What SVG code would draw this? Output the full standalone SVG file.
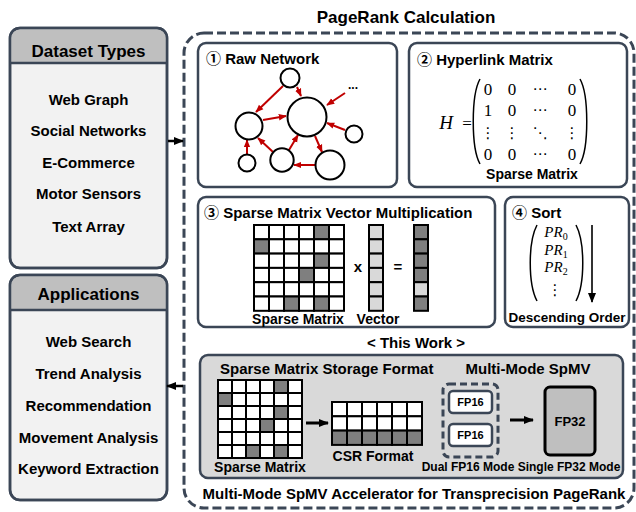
<svg xmlns="http://www.w3.org/2000/svg" width="636" height="512" viewBox="0 0 636 512">
<style>
text{font-family:"Liberation Sans","Noto Sans CJK JP",sans-serif;font-weight:bold;fill:#000}
.t17{font-size:17px}
.t15{font-size:15px}
.t14{font-size:14px}
.t12{font-size:12px}
.c{text-anchor:middle}
.box{fill:#fff;stroke:#3b4656;stroke-width:2.5}
.panel{fill:#f2f2f2;stroke:#3b4656;stroke-width:2.5}
.hdr{fill:#bfbfbf}
.math{font-family:"Liberation Serif","DejaVu Serif",serif;font-weight:normal;font-size:17px}
.mi{font-style:italic}
.sym{font-family:"DejaVu Serif","DejaVu Sans",serif;font-weight:normal;font-size:15px}
.node{fill:#fff;stroke:#000;stroke-width:2}
.edge{stroke:#c00000;stroke-width:2;fill:none;marker-end:url(#ar)}
.cell{fill:#fff;stroke:#000;stroke-width:2}
.dk{fill:#7f7f7f}
.lt{fill:#d9d9d9}
.paren{fill:none;stroke:#000;stroke-width:1.5}
.conn{stroke:#000;stroke-width:2.5;fill:none;marker-end:url(#ak)}
</style>
<defs>
<marker id="ar" viewBox="0 0 10 10" refX="9" refY="5" markerWidth="8" markerHeight="8" markerUnits="userSpaceOnUse" orient="auto"><path d="M0,1 L10,5 L0,9 z" fill="#c00000"/></marker>
<marker id="ak" viewBox="0 0 10 10" refX="9" refY="5" markerWidth="10" markerHeight="10" markerUnits="userSpaceOnUse" orient="auto"><path d="M0,1 L10,5 L0,9 z" fill="#000"/></marker>
</defs>

<!-- Dataset Types panel -->
<g id="dataset-types">
<rect class="panel" x="10" y="28" width="157" height="240" rx="10"/>
<path class="hdr" d="M11.2,63 V38 a8.8,8.8 0 0 1 8.8,-8.8 H157 a8.8,8.8 0 0 1 8.8,8.8 V63 Z"/>
<line x1="10" y1="63" x2="167" y2="63" stroke="#3b4656" stroke-width="2.5"/>
<rect x="10" y="28" width="157" height="240" rx="10" fill="none" stroke="#3b4656" stroke-width="2.5"/>
<text class="t17 c" x="88.5" y="57">Dataset Types</text>
<text class="t15 c" x="88.5" y="105">Web Graph</text>
<text class="t15 c" x="88.5" y="136">Social Networks</text>
<text class="t15 c" x="88.5" y="168">E-Commerce</text>
<text class="t15 c" x="88.5" y="199">Motor Sensors</text>
<text class="t15 c" x="88.5" y="232">Text Array</text>
</g>

<!-- Applications panel -->
<g id="applications">
<rect class="panel" x="10" y="275" width="157" height="225" rx="10"/>
<path class="hdr" d="M11.2,310 V285 a8.8,8.8 0 0 1 8.8,-8.8 H157 a8.8,8.8 0 0 1 8.8,8.8 V310 Z"/>
<line x1="10" y1="310" x2="167" y2="310" stroke="#3b4656" stroke-width="2.5"/>
<rect x="10" y="275" width="157" height="225" rx="10" fill="none" stroke="#3b4656" stroke-width="2.5"/>
<text class="t17 c" x="88.5" y="300">Applications</text>
<text class="t15 c" x="88.5" y="347">Web Search</text>
<text class="t15 c" x="88.5" y="379">Trend Analysis</text>
<text class="t15 c" x="88.5" y="411">Recommendation</text>
<text class="t15 c" x="88.5" y="443">Movement Analysis</text>
<text class="t15 c" x="88.5" y="474">Keyword Extraction</text>
</g>

<!-- PageRank Calculation dashed container -->
<g id="pagerank-calculation">
<text class="t17 c" x="406" y="23">PageRank Calculation</text>
<rect x="184" y="33" width="450" height="475" rx="20" fill="none" stroke="#3b4656" stroke-width="3" stroke-dasharray="9,4"/>
<text class="t15 c" x="416" y="348">&lt; This Work &gt;</text>
<text class="t15 c" x="414" y="499">Multi-Mode SpMV Accelerator for Transprecision PageRank</text>
</g>

<!-- Box 1 Raw Network -->
<g id="raw-network">
<rect class="box" x="198" y="43" width="199" height="144" rx="8"/>
<text class="t15" x="206" y="64">① Raw Network</text>
<g>
<line class="edge" x1="283" y1="86" x2="256" y2="112"/>
<line class="edge" x1="297" y1="87" x2="301" y2="96"/>
<line class="edge" x1="263" y1="120" x2="286" y2="116"/>
<line class="edge" x1="345" y1="93" x2="327" y2="105"/>
<line class="edge" x1="345" y1="130" x2="327" y2="123"/>
<line class="edge" x1="315" y1="136" x2="322" y2="152"/>
<line class="edge" x1="316" y1="165" x2="294" y2="165"/>
<line class="edge" x1="289" y1="150" x2="298" y2="135"/>
<line class="edge" x1="273" y1="152" x2="258" y2="138"/>
<line class="edge" x1="247" y1="155" x2="247" y2="140"/>
</g>
<circle class="node" cx="290" cy="78" r="9.5"/>
<circle class="node" cx="307" cy="117" r="19.5"/>
<circle class="node" cx="249" cy="126" r="13.5"/>
<circle class="node" cx="247" cy="163" r="8.5"/>
<circle class="node" cx="282" cy="160" r="11.7"/>
<circle class="node" cx="330" cy="165" r="14.5"/>
<circle class="node" cx="354" cy="134" r="8.5"/>
<text x="353" y="89" class="c" style="font-size:12px">...</text>
</g>

<!-- Box 2 Hyperlink Matrix -->
<g id="hyperlink-matrix">
<rect class="box" x="409" y="43" width="218" height="144" rx="8"/>
<text class="t15" x="417" y="65">② Hyperlink Matrix</text>
<text class="math mi" x="446" y="129" text-anchor="middle" style="font-size:19px">H</text>
<text class="math" x="467" y="129" text-anchor="middle">=</text>
<path class="paren" d="M480,79 C471,95 471,148 480,164"/>
<path class="paren" d="M580,79 C589,95 589,148 580,164"/>
<text class="math" x="488" y="95" text-anchor="middle">0</text>
<text class="math" x="512" y="95" text-anchor="middle">0</text>
<text class="math" x="572" y="95" text-anchor="middle">0</text>
<text class="math" x="488" y="116" text-anchor="middle">1</text>
<text class="math" x="512" y="116" text-anchor="middle">0</text>
<text class="math" x="572" y="116" text-anchor="middle">0</text>
<text class="math" x="488" y="160" text-anchor="middle">0</text>
<text class="math" x="512" y="160" text-anchor="middle">0</text>
<text class="math" x="572" y="160" text-anchor="middle">0</text>
<text class="sym" x="540" y="94" text-anchor="middle">⋯</text>
<text class="sym" x="540" y="115" text-anchor="middle">⋯</text>
<text class="sym" x="540" y="159" text-anchor="middle">⋯</text>
<text class="sym" x="488" y="138" text-anchor="middle">⋮</text>
<text class="sym" x="512" y="138" text-anchor="middle">⋮</text>
<text class="sym" x="540" y="138" text-anchor="middle">⋱</text>
<text class="sym" x="572" y="138" text-anchor="middle">⋮</text>
<text class="t14 c" x="532" y="179">Sparse Matrix</text>
</g>

<!-- Box 3 SpMV -->
<g id="spmv">
<rect class="box" x="198" y="197" width="297" height="130" rx="8"/>
<text class="t15" x="204" y="218">③ Sparse Matrix Vector Multiplication</text>
<g>
<rect class="cell" x="254" y="225" width="15" height="14.3"/><rect class="cell" x="269" y="225" width="15" height="14.3"/><rect class="cell" x="284" y="225" width="15" height="14.3"/><rect class="cell" x="299" y="225" width="15" height="14.3"/><rect class="cell dk" x="314" y="225" width="15" height="14.3"/><rect class="cell" x="329" y="225" width="15" height="14.3"/>
<rect class="cell dk" x="254" y="239.3" width="15" height="14.3"/><rect class="cell" x="269" y="239.3" width="15" height="14.3"/><rect class="cell" x="284" y="239.3" width="15" height="14.3"/><rect class="cell" x="299" y="239.3" width="15" height="14.3"/><rect class="cell" x="314" y="239.3" width="15" height="14.3"/><rect class="cell" x="329" y="239.3" width="15" height="14.3"/>
<rect class="cell" x="254" y="253.6" width="15" height="14.3"/><rect class="cell" x="269" y="253.6" width="15" height="14.3"/><rect class="cell" x="284" y="253.6" width="15" height="14.3"/><rect class="cell" x="299" y="253.6" width="15" height="14.3"/><rect class="cell dk" x="314" y="253.6" width="15" height="14.3"/><rect class="cell" x="329" y="253.6" width="15" height="14.3"/>
<rect class="cell" x="254" y="267.9" width="15" height="14.3"/><rect class="cell" x="269" y="267.9" width="15" height="14.3"/><rect class="cell" x="284" y="267.9" width="15" height="14.3"/><rect class="cell dk" x="299" y="267.9" width="15" height="14.3"/><rect class="cell" x="314" y="267.9" width="15" height="14.3"/><rect class="cell" x="329" y="267.9" width="15" height="14.3"/>
<rect class="cell" x="254" y="282.2" width="15" height="14.3"/><rect class="cell" x="269" y="282.2" width="15" height="14.3"/><rect class="cell" x="284" y="282.2" width="15" height="14.3"/><rect class="cell" x="299" y="282.2" width="15" height="14.3"/><rect class="cell" x="314" y="282.2" width="15" height="14.3"/><rect class="cell" x="329" y="282.2" width="15" height="14.3"/>
<rect class="cell" x="254" y="296.5" width="15" height="14.3"/><rect class="cell" x="269" y="296.5" width="15" height="14.3"/><rect class="cell dk" x="284" y="296.5" width="15" height="14.3"/><rect class="cell" x="299" y="296.5" width="15" height="14.3"/><rect class="cell dk" x="314" y="296.5" width="15" height="14.3"/><rect class="cell" x="329" y="296.5" width="15" height="14.3"/>
</g>
<text class="t15 c" x="358" y="272">x</text>
<g>
<rect class="cell lt" x="369" y="225" width="14" height="14.3"/><rect class="cell lt" x="369" y="239.3" width="14" height="14.3"/><rect class="cell lt" x="369" y="253.6" width="14" height="14.3"/><rect class="cell lt" x="369" y="267.9" width="14" height="14.3"/><rect class="cell lt" x="369" y="282.2" width="14" height="14.3"/><rect class="cell lt" x="369" y="296.5" width="14" height="14.3"/>
</g>
<text class="t15 c" x="398" y="272">=</text>
<g>
<rect class="cell dk" x="414" y="225" width="14" height="14.3"/><rect class="cell dk" x="414" y="239.3" width="14" height="14.3"/><rect class="cell dk" x="414" y="253.6" width="14" height="14.3"/><rect class="cell dk" x="414" y="267.9" width="14" height="14.3"/><rect class="cell lt" x="414" y="282.2" width="14" height="14.3"/><rect class="cell dk" x="414" y="296.5" width="14" height="14.3"/>
</g>
<text class="t14 c" x="298" y="324">Sparse Matrix</text>
<text class="t14 c" x="378" y="324">Vector</text>
</g>

<!-- Box 4 Sort -->
<g id="sort">
<rect class="box" x="505" y="197" width="124" height="130" rx="8"/>
<text class="t15" x="512" y="218">④ Sort</text>
<path class="paren" d="M537,225 C528,242 528,284 537,301"/>
<path class="paren" d="M576,225 C585,242 585,284 576,301"/>
<text class="math" x="556" y="237" text-anchor="middle" style="font-size:15px"><tspan font-style="italic">PR</tspan><tspan style="font-size:10px" dy="3">0</tspan></text>
<text class="math" x="556" y="255" text-anchor="middle" style="font-size:15px"><tspan font-style="italic">PR</tspan><tspan style="font-size:10px" dy="3">1</tspan></text>
<text class="math" x="556" y="272" text-anchor="middle" style="font-size:15px"><tspan font-style="italic">PR</tspan><tspan style="font-size:10px" dy="3">2</tspan></text>
<text class="sym" x="555" y="295" text-anchor="middle">⋮</text>
<line x1="592" y1="225" x2="592" y2="302" stroke="#333" stroke-width="2" marker-end="url(#ak)"/>
<text class="c" x="567" y="322" style="font-size:13.5px">Descending Order</text>
</g>

<!-- This Work box -->
<g id="this-work">
<rect x="200" y="355" width="423" height="123" rx="8" fill="#d9d9d9" stroke="#3b4656" stroke-width="2.5"/>
<text class="t15" x="220" y="374">Sparse Matrix Storage Format</text>
<text class="t15 c" x="528" y="374">Multi-Mode SpMV</text>
<g>
<rect class="cell" x="218" y="380" width="14" height="13"/><rect class="cell" x="232" y="380" width="14" height="13"/><rect class="cell" x="246" y="380" width="14" height="13"/><rect class="cell" x="260" y="380" width="14" height="13"/><rect class="cell dk" x="274" y="380" width="14" height="13"/><rect class="cell" x="288" y="380" width="14" height="13"/>
<rect class="cell dk" x="218" y="393" width="14" height="13"/><rect class="cell" x="232" y="393" width="14" height="13"/><rect class="cell" x="246" y="393" width="14" height="13"/><rect class="cell" x="260" y="393" width="14" height="13"/><rect class="cell" x="274" y="393" width="14" height="13"/><rect class="cell" x="288" y="393" width="14" height="13"/>
<rect class="cell" x="218" y="406" width="14" height="13"/><rect class="cell" x="232" y="406" width="14" height="13"/><rect class="cell" x="246" y="406" width="14" height="13"/><rect class="cell" x="260" y="406" width="14" height="13"/><rect class="cell dk" x="274" y="406" width="14" height="13"/><rect class="cell" x="288" y="406" width="14" height="13"/>
<rect class="cell" x="218" y="419" width="14" height="13"/><rect class="cell" x="232" y="419" width="14" height="13"/><rect class="cell" x="246" y="419" width="14" height="13"/><rect class="cell dk" x="260" y="419" width="14" height="13"/><rect class="cell" x="274" y="419" width="14" height="13"/><rect class="cell" x="288" y="419" width="14" height="13"/>
<rect class="cell" x="218" y="432" width="14" height="13"/><rect class="cell" x="232" y="432" width="14" height="13"/><rect class="cell" x="246" y="432" width="14" height="13"/><rect class="cell" x="260" y="432" width="14" height="13"/><rect class="cell" x="274" y="432" width="14" height="13"/><rect class="cell" x="288" y="432" width="14" height="13"/>
<rect class="cell" x="218" y="445" width="14" height="13"/><rect class="cell" x="232" y="445" width="14" height="13"/><rect class="cell dk" x="246" y="445" width="14" height="13"/><rect class="cell" x="260" y="445" width="14" height="13"/><rect class="cell dk" x="274" y="445" width="14" height="13"/><rect class="cell" x="288" y="445" width="14" height="13"/>
</g>
<text class="t14 c" x="260" y="472">Sparse Matrix</text>
<line x1="306" y1="423" x2="328" y2="423" stroke="#000" stroke-width="3" marker-end="url(#ak)"/>
<g>
<rect class="cell" x="332" y="402" width="15" height="14.3"/><rect class="cell" x="347" y="402" width="15" height="14.3"/><rect class="cell" x="362" y="402" width="15" height="14.3"/><rect class="cell" x="377" y="402" width="15" height="14.3"/><rect class="cell" x="392" y="402" width="15" height="14.3"/><rect class="cell" x="407" y="402" width="15" height="14.3"/>
<rect class="cell" x="332" y="416.3" width="15" height="14.3"/><rect class="cell" x="347" y="416.3" width="15" height="14.3"/><rect class="cell" x="362" y="416.3" width="15" height="14.3"/><rect class="cell" x="377" y="416.3" width="15" height="14.3"/><rect class="cell" x="392" y="416.3" width="15" height="14.3"/><rect class="cell" x="407" y="416.3" width="15" height="14.3"/>
<rect class="cell dk" x="332" y="430.6" width="15" height="14.3"/><rect class="cell dk" x="347" y="430.6" width="15" height="14.3"/><rect class="cell dk" x="362" y="430.6" width="15" height="14.3"/><rect class="cell dk" x="377" y="430.6" width="15" height="14.3"/><rect class="cell dk" x="392" y="430.6" width="15" height="14.3"/><rect class="cell dk" x="407" y="430.6" width="15" height="14.3"/>
</g>
<text class="t14 c" x="373" y="461">CSR Format</text>
<rect x="443" y="384" width="55" height="73" rx="6" fill="none" stroke="#3b4656" stroke-width="3" stroke-dasharray="7,4"/>
<rect x="449" y="391" width="43" height="22" rx="4" fill="#fff" stroke="#3b4656" stroke-width="2.5"/>
<text class="c" x="470.5" y="406" style="font-size:11px">FP16</text>
<rect x="449" y="424" width="43" height="22" rx="4" fill="#fff" stroke="#3b4656" stroke-width="2.5"/>
<text class="c" x="470.5" y="439" style="font-size:11px">FP16</text>
<line x1="510" y1="420" x2="533" y2="420" stroke="#000" stroke-width="3" marker-end="url(#ak)"/>
<rect x="545" y="387" width="50" height="68" rx="5" fill="#bfbfbf" stroke="#000" stroke-width="3"/>
<text class="c" x="570" y="426" style="font-size:13px">FP32</text>
<text class="t12 c" x="521" y="471">Dual FP16 Mode Single FP32 Mode</text>
</g>

<!-- connectors -->
<g id="connectors">
<line class="conn" x1="168" y1="141" x2="183" y2="141"/>
<line class="conn" x1="183" y1="386" x2="167" y2="386"/>
</g>
</svg>
